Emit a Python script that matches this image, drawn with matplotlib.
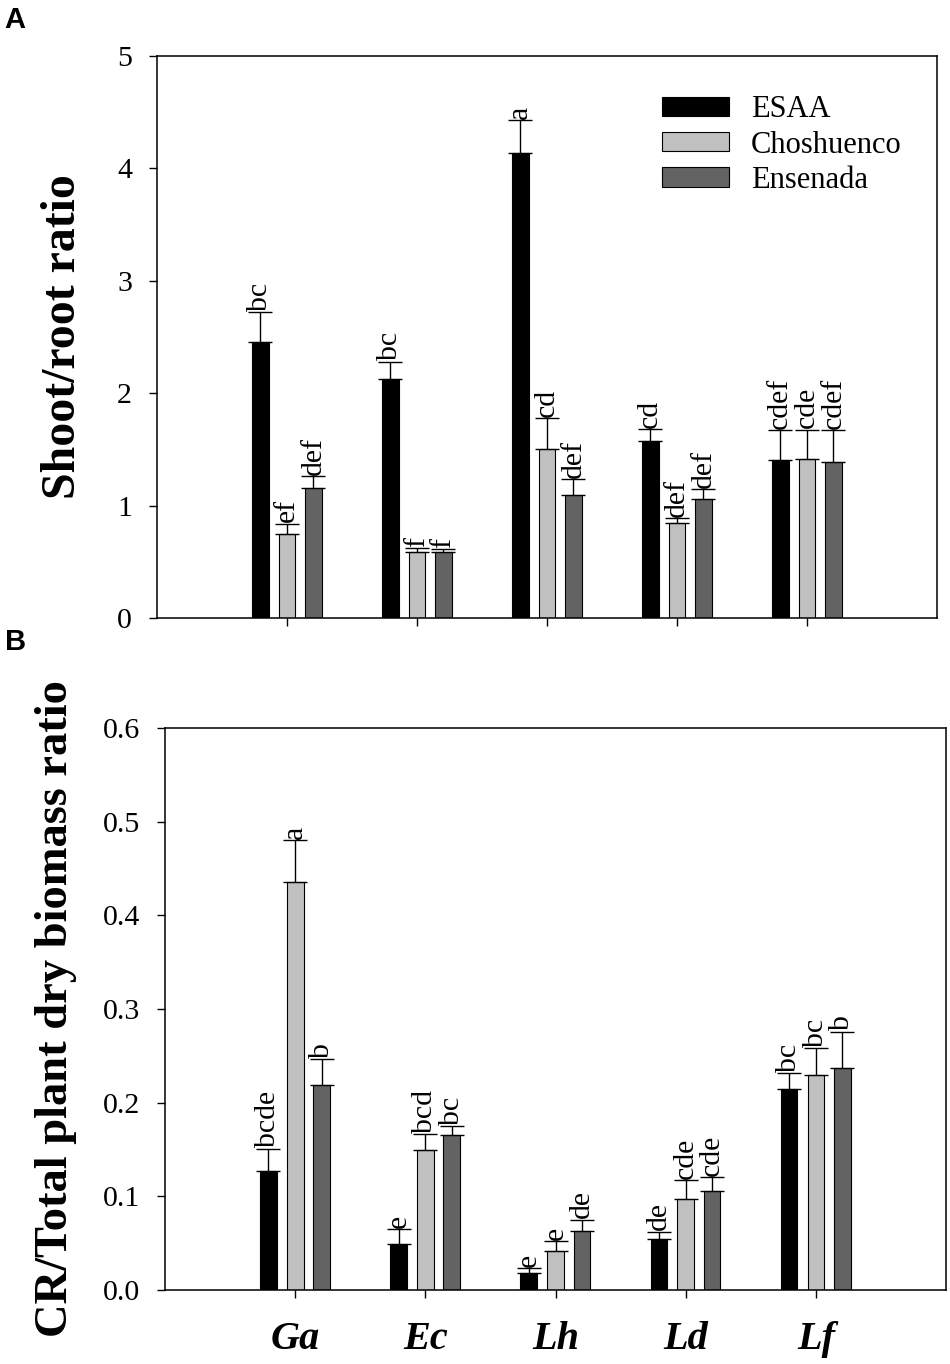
import numpy as np
import matplotlib
matplotlib.use("Agg")
import matplotlib.pyplot as plt

plt.rcParams['font.family'] = ['Liberation Serif', 'DejaVu Serif']

species = ["Ga", "Ec", "Lh", "Ld", "Lf"]
populations = ["ESAA", "Choshuenco", "Ensenada"]
colors = ["#000000", "#c0c0c0", "#636363"]

# Panel A: Shoot/root ratio
sr_mean = {
    "ESAA":       [2.46, 2.13, 4.14, 1.575, 1.41],
    "Choshuenco": [0.745, 0.59, 1.50, 0.842, 1.415],
    "Ensenada":   [1.154, 0.59, 1.094, 1.059, 1.388],
}
sr_err = {
    "ESAA":       [0.26, 0.15, 0.29, 0.105, 0.26],
    "Choshuenco": [0.095, 0.03, 0.28, 0.045, 0.26],
    "Ensenada":   [0.107, 0.02, 0.14, 0.087, 0.285],
}
sr_letters = {
    "ESAA":       ["bc", "bc", "a", "cd", "cdef"],
    "Choshuenco": ["ef", "f", "cd", "def", "cde"],
    "Ensenada":   ["def", "f", "def", "def", "cdef"],
}

# Panel B: CR/Total plant dry biomass ratio
cr_mean = {
    "ESAA":       [0.127, 0.0495, 0.018, 0.0544, 0.2143],
    "Choshuenco": [0.436, 0.149, 0.042, 0.097, 0.2299],
    "Ensenada":   [0.2185, 0.165, 0.063, 0.1057, 0.2367],
}
cr_err = {
    "ESAA":       [0.024, 0.0155, 0.005, 0.008, 0.017],
    "Choshuenco": [0.044, 0.017, 0.010, 0.020, 0.028],
    "Ensenada":   [0.028, 0.010, 0.012, 0.0146, 0.039],
}
cr_letters = {
    "ESAA":       ["bcde", "e", "e", "de", "bc"],
    "Choshuenco": ["a", "bcd", "e", "cde", "bc"],
    "Ensenada":   ["b", "bc", "de", "cde", "b"],
}

fig = plt.figure(figsize=(9.5, 13.64), dpi=100)
axA = fig.add_axes([0.1653, 0.5469, 0.8210, 0.4120])
axB = fig.add_axes([0.1737, 0.05425, 0.8221, 0.4121])

x = np.arange(len(species))
offsets = [-0.205, 0.0, 0.203]
width = 0.128


def draw(ax, means, errs, letters, ylim, yticks, yticklabels, ylabel, letter_off):
    for i, pop in enumerate(populations):
        m = np.array(means[pop])
        e = np.array(errs[pop])
        xpos = x + offsets[i]
        ax.bar(xpos, m, width=width, color=colors[i], edgecolor="black",
               linewidth=0.8, label=pop, zorder=2)
        ax.errorbar(xpos, m, yerr=[np.zeros_like(e), e], fmt="none",
                    ecolor="black", elinewidth=1.0, capsize=8.5, capthick=1.0,
                    zorder=3)
        for xp, mv, ev, lab in zip(xpos, m, e, letters[pop]):
            ax.annotate(lab, (xp, mv + ev), xytext=(0, letter_off),
                        textcoords="offset points", rotation=90,
                        ha="center", va="bottom", fontsize=21.5)
    ax.set_xlim(-1, 5)
    ax.set_ylim(*ylim)
    ax.set_yticks(yticks)
    ax.set_yticklabels(yticklabels, fontsize=21.5)
    ax.set_xticks(x)
    ax.tick_params(axis="both", direction="out", length=6, width=1.0, pad=12)
    for s in ax.spines.values():
        s.set_linewidth(1.1)
    ax.set_ylabel(ylabel, fontsize=34.5, fontweight="bold")


draw(axA, sr_mean, sr_err, sr_letters, (0, 5), [0, 1, 2, 3, 4, 5],
     ["0", "1", "2", "3", "4", "5"], "Shoot/root ratio", 1)
axA.set_xticklabels([])
axA.yaxis.set_label_coords(-0.092, 0.5)

draw(axB, cr_mean, cr_err, cr_letters, (0, 0.6),
     [0, 0.1, 0.2, 0.3, 0.4, 0.5, 0.6],
     ["0.0", "0.1", "0.2", "0.3", "0.4", "0.5", "0.6"],
     "CR/Total plant dry biomass ratio", 1)
axB.yaxis.label.set_fontsize(33.5)
axB.set_xticklabels(species, fontsize=29, fontweight="bold", style="italic")
axB.tick_params(axis="x", pad=16)
axB.yaxis.set_label_coords(-0.113, 0.5)

leg = axA.legend(loc="upper left", bbox_to_anchor=(0.647, 0.93), frameon=False,
                 fontsize=22, handlelength=2.2, handleheight=0.6,
                 handletextpad=0.72, labelspacing=0.2, borderpad=0,
                 borderaxespad=0)

fig.text(0.005, 0.985, "A", fontsize=21, fontweight="bold",
         family="Liberation Sans", ha="left", va="center")
fig.text(0.005, 0.529, "B", fontsize=21, fontweight="bold",
         family="Liberation Sans", ha="left", va="center")

fig.savefig("out.png", dpi=100)
